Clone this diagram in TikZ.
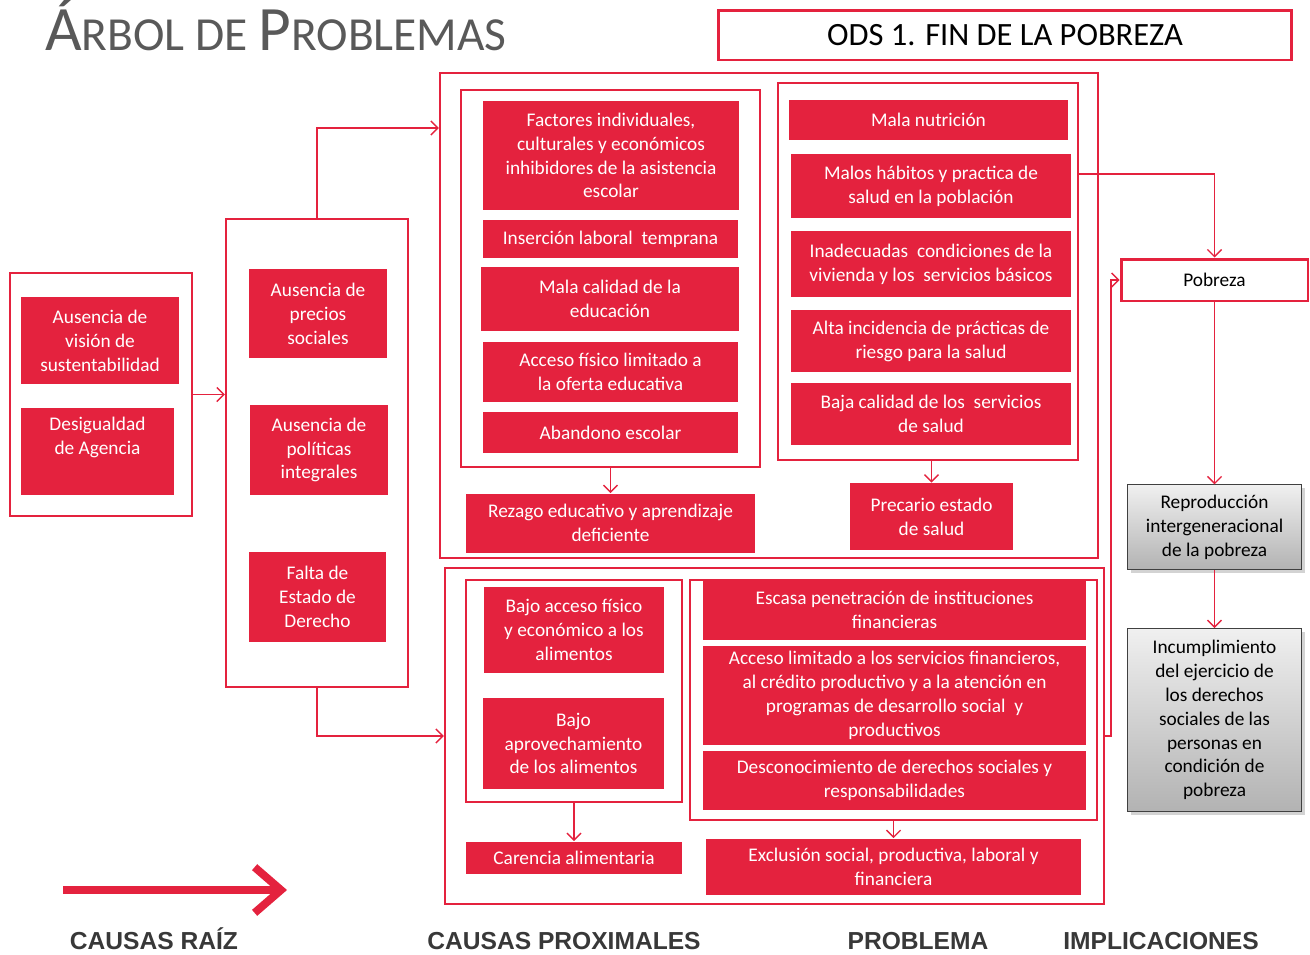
\documentclass[tikz,border=0pt]{standalone}
\usepackage{fontspec}
\setmainfont{Carlito}
\newfontfamily\lblfont{Liberation Sans}
\usetikzlibrary{arrows.meta,positioning,shadows}
\definecolor{ered}{RGB}{228,34,62}
\definecolor{titlegray}{RGB}{89,89,89}

\begin{document}
\begin{tikzpicture}[x=0.02cm, y=-0.02cm, >={Straight Barb[length=4pt,width=8pt]},
    cause/.style={fill=ered, text=white, align=center, inner sep=1pt, font=\fontsize{11}{13.6}\selectfont},
    frame/.style={draw=ered, line width=1.4pt},
    link/.style={->, draw=ered, line width=0.8pt},
    impl/.style={draw=black!75, thin, top color=black!6, bottom color=black!30,
        drop shadow={opacity=0.35, shadow xshift=2pt, shadow yshift=-2pt},
        align=center, font=\fontsize{11}{13.6}\selectfont},
    stage/.style={font=\lblfont\bfseries\fontsize{14}{16}\selectfont, text=black!78, anchor=base}]
    \useasboundingbox (0,0) rectangle (1310,954);

    % title and goal
    \node[anchor=base west, text=titlegray, inner sep=0] (title) at (45,50)
        {\fontsize{36}{40}\selectfont Á\fontsize{27}{30}\selectfont RBOL DE \fontsize{36}{40}\selectfont P\fontsize{27}{30}\selectfont ROBLEMAS};
    \node[draw=ered, line width=1.7pt, minimum width=11.48cm, minimum height=1cm,
        font=\fontsize{18.5}{20}\selectfont] (ods) at (1005,35) {ODS 1. FIN DE LA POBREZA};

    % causas raiz
    \node[frame, minimum width=3.64cm, minimum height=4.86cm] (root) at (101,394.5) {};
    \node[cause, minimum width=3.16cm, minimum height=1.74cm] (r1) at (100,340.5) {Ausencia de\\visión de\\sustentabilidad};
    \node[cause, minimum width=3.06cm, minimum height=1.74cm] (r2) at (97.5,451.5) {Desigualdad\\de Agencia\\\strut};

    \node[frame, minimum width=3.64cm, minimum height=9.36cm] (mid) at (317,453) {};
    \node[cause, minimum width=2.76cm, minimum height=1.78cm] (p1) at (318,313.5) {Ausencia de\\precios\\sociales};
    \node[cause, minimum width=2.76cm, minimum height=1.8cm] (p2) at (319,450) {Ausencia de\\políticas\\integrales};
    \node[cause, minimum width=2.74cm, minimum height=1.8cm] (p3) at (317.5,597) {Falta de\\Estado de\\Derecho};

    % educacion y salud
    \node[frame, minimum width=13.16cm, minimum height=9.7cm] (top) at (769,315.5) {};
    \node[frame, minimum width=5.98cm, minimum height=7.54cm] (lin) at (610.5,278.5) {};
    \node[cause, minimum width=5.12cm, minimum height=2.18cm] (e1) at (611,155.5) {Factores individuales,\\culturales y económicos\\inhibidores de la asistencia\\escolar};
    \node[cause, minimum width=5.1cm, minimum height=0.76cm] (e2) at (610.5,239) {Inserción laboral\ \ temprana};
    \node[cause, minimum width=5.16cm, minimum height=1.28cm] (e3) at (610,299) {Mala calidad de la\\educación};
    \node[cause, minimum width=5.1cm, minimum height=1.2cm] (e4) at (610.5,372) {Acceso físico limitado a\\la oferta educativa};
    \node[cause, minimum width=5.1cm, minimum height=0.82cm] (e5) at (610.5,432.5) {Abandono escolar};
    \node[cause, minimum width=5.78cm, minimum height=1.18cm, below=0.5cm of lin] (eR) {Rezago educativo y aprendizaje\\deficiente};

    \node[frame, minimum width=6cm, minimum height=7.54cm] (rin) at (928,271.5) {};
    \node[cause, minimum width=5.58cm, minimum height=0.8cm] (s1) at (928.5,120) {Mala nutrición};
    \node[cause, minimum width=5.6cm, minimum height=1.28cm] (s2) at (931,186) {Malos hábitos y practica de\\salud en la población};
    \node[cause, minimum width=5.6cm, minimum height=1.32cm] (s3) at (931,264) {Inadecuadas\ \ condiciones de la\\vivienda y los\ \ servicios básicos};
    \node[cause, minimum width=5.6cm, minimum height=1.24cm] (s4) at (931,341) {Alta incidencia de prácticas de\\riesgo para la salud};
    \node[cause, minimum width=5.6cm, minimum height=1.24cm] (s5) at (931,414) {Baja calidad de los\ \ servicios\\de salud};
    \node[cause, minimum width=3.26cm, minimum height=1.34cm] (sR) at (931.5,516.5) {Precario estado\\de salud};

    % alimentacion y finanzas
    \node[frame, minimum width=13.18cm, minimum height=6.72cm] (bot) at (774.5,736) {};
    \node[frame, minimum width=4.32cm, minimum height=4.44cm] (ain) at (574,691) {};
    \node[cause, minimum width=3.6cm, minimum height=1.72cm] (a1) at (574,630) {Bajo acceso físico\\y económico a los\\alimentos};
    \node[cause, minimum width=3.62cm, minimum height=1.82cm] (a2) at (573.5,743.5) {Bajo\\aprovechamiento\\de los alimentos};
    \node[cause, minimum width=4.32cm, minimum height=0.64cm, below=0.76cm of ain] (aR) {Carencia alimentaria};

    \node[frame, minimum width=8.14cm, minimum height=4.8cm] (fin) at (893.5,700) {};
    \node[cause, minimum width=7.66cm, minimum height=1.2cm] (f1) at (894.5,610) {Escasa penetración de instituciones\\financieras};
    \node[cause, minimum width=7.66cm, minimum height=1.98cm] (f2) at (894.5,695.5) {Acceso limitado a los servicios financieros,\\al crédito productivo y a la atención en\\programas de desarrollo social\ \ y\\productivos};
    \node[cause, minimum width=7.66cm, minimum height=1.18cm] (f3) at (894.5,780.5) {Desconocimiento de derechos sociales y\\responsabilidades};
    \node[cause, minimum width=7.52cm, minimum height=1.12cm, below=0.34cm of fin] (fR) {Exclusión social, productiva, laboral y\\financiera};

    % implicaciones
    \node[draw=ered, line width=1.7pt, fill=white, minimum width=3.74cm, minimum height=0.84cm,
        font=\fontsize{11}{13.6}\selectfont] (pob) at (1214.5,280) {Pobreza};
    \node[impl, minimum width=3.48cm, minimum height=1.7cm, below=3.64cm of pob] (rep) {Reproducción\\intergeneracional\\de la pobreza};
    \node[impl, minimum width=3.48cm, minimum height=3.66cm, below=1.16cm of rep] (inc) {Incumplimiento\\del ejercicio de\\los derechos\\sociales de las\\personas en\\condición de\\pobreza};

    \draw[link] (root.east) -- (root.east -| mid.west);
    \draw[link] (mid.north) |- (top.west |- 0,128);
    \draw[link] (mid.south) |- (bot.west);
    \draw[link] (lin.south) -- (eR.north);
    \draw[link] (sR.north |- rin.south) -- (sR.north);
    \draw[link] (ain.south) -- (aR.north);
    \draw[link] (fin.south) -- (fR.north);
    \draw[link] (rin.east |- 0,174) -| (pob.north);
    \draw[link] (bot.east) -- ++(6,0) |- (pob.west);
    \draw[link] (pob.south) -- (rep.north);
    \draw[link] (rep.south) -- (inc.north);

    % direction arrow and stages
    \coordinate (arrS) at (63,890);
    \coordinate (arrE) at (287,890);
    \draw[ered, line width=4.5pt, -{Straight Barb[length=15pt,width=26pt]}] (arrS) -- (arrE);
    \node[stage] (lroot) at (154,949) {CAUSAS RAÍZ};
    \node[stage] (lprox) at (564,949) {CAUSAS PROXIMALES};
    \node[stage] (lprob) at (918,949) {PROBLEMA};
    \node[stage] (limpl) at (1161,949) {IMPLICACIONES};
\end{tikzpicture}
\end{document}
